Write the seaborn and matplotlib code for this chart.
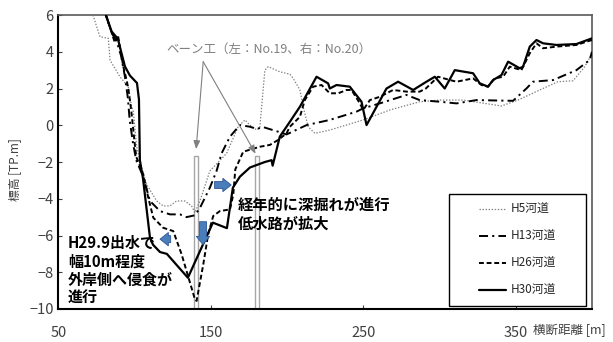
import matplotlib
matplotlib.use('Agg')
import matplotlib.pyplot as plt
import seaborn as sns
from matplotlib.lines import Line2D

sns.set_style('ticks')
plt.rcParams['font.family'] = ['Noto Sans CJK JP', 'DejaVu Sans']
plt.rcParams['lines.scale_dashes'] = False

# ---- data ----
h5_x = [72.6, 77.2, 82.7, 83.8, 90.3, 95.8, 98.0, 99.0, 101.3, 103.4, 105.6, 107.8, 114.4, 118.7,
        123.1, 127.5, 132.9, 137.3, 139.5, 142.8, 149.3, 151.5, 160.3, 167.9, 172.3, 175.6, 180.0,
        182.1, 185.4, 187.6, 195.2, 201.8, 204.0, 208.4, 210.5, 213.8, 218.2, 228.0, 249.9, 267.4,
        287.0, 300.2, 315.4, 340.6, 351.5, 365.7, 377.7, 387.6, 395.3, 400.0]
h5_y = [6.0, 4.82, 4.73, 3.55, 2.64, 2.1, 1.0, 0.83, -1.17, -1.9, -2.6, -3.21, -4.12, -4.39,
        -4.39, -4.12, -4.12, -4.39, -4.76, -4.12, -2.49, -2.3, -1.53, -0.08, 0.29, 0.01, -0.26,
        -0.1, 3.0, 3.19, 2.91, 2.78, 2.55, 1.92, 1.01, -0.08, -0.44, -0.26, 0.29, 0.83,
        1.28, 1.37, 1.37, 1.05, 1.37, 1.92, 2.37, 2.42, 3.19, 3.9]

h13_x = [81.1, 85.0, 88.0, 91.0, 93.6, 95.5, 96.7, 98.9, 101.0, 105.6, 110.0, 116.6, 123.1, 129.7,
         134.0, 139.5, 142.8, 149.3, 153.7, 157.0, 162.5, 169.0, 175.6, 180.0, 184.3, 194.1, 199.6,
         212.8, 228.0, 245.5, 249.9, 260.8, 278.3, 287.0, 300.2, 311.1, 324.2, 348.2, 357.0, 361.3,
         374.5, 389.8, 398.5, 400.0]
h13_y = [6.0, 5.0, 4.6, 3.8, 2.64, 1.5, 0.29, -0.98, -1.9, -2.8, -4.12, -4.67, -4.85, -4.85,
         -5.0, -4.9, -4.5, -3.4, -2.49, -1.53, -0.62, 0.01, -0.08, -0.2, -0.1, -0.35, -0.5,
         0.01, 0.29, 0.74, 0.92, 1.19, 1.65, 1.37, 1.28, 1.19, 1.37, 1.33, 2.0, 2.37,
         2.46, 3.0, 3.55, 4.0]

h26_x = [81.1, 85.0, 87.0, 89.0, 92.5, 94.7, 95.8, 97.7, 100.0, 101.0, 105.6, 108.9, 112.2, 118.7,
         125.3, 130.8, 139.5, 140.6, 145.0, 148.2, 151.5, 155.9, 162.5, 164.7, 166.0, 171.2, 182.1,
         188.7, 194.1, 199.6, 201.8, 208.4, 211.6, 217.1, 222.6, 228.0, 233.5, 239.0, 242.3, 247.7,
         249.9, 254.3, 260.8, 269.5, 278.3, 287.0, 291.0, 299.0, 306.9, 311.1, 322.0, 327.5, 331.8,
         336.2, 341.7, 346.1, 353.7, 359.2, 363.6, 367.9, 376.7, 389.8, 400.0]
h26_y = [6.0, 5.0, 4.5, 4.9, 3.2, 2.46, 2.0, 0.83, -0.98, -1.71, -2.67, -3.94, -5.03, -5.58,
         -5.76, -7.03, -9.47, -9.56, -7.57, -5.94, -4.94, -4.67, -4.58, -3.76, -2.4, -1.44, -1.17,
         -1.07, -0.8, -0.44, -0.08, 0.46, 1.37, 2.1, 2.19, 1.74, 1.74, 1.92, 1.92, 1.19,
         0.83, 1.37, 1.55, 1.92, 1.83, 1.83, 2.0, 2.64, 2.46, 2.37, 2.55, 2.19, 2.1,
         2.55, 2.64, 3.19, 3.0, 3.92, 4.46, 4.19, 4.28, 4.37, 4.64]

h30_x = [81.1, 84.9, 89.0, 90.3, 93.6, 96.9, 101.5, 102.8, 103.4, 104.6, 105.4, 110.0, 112.0, 116.6,
         121.1, 134.9, 148.0, 151.3, 160.5, 164.4, 169.0, 175.6, 185.4, 189.8, 190.5, 195.2, 199.6,
         201.8, 208.4, 219.3, 226.9, 228.0, 232.4, 241.1, 248.8, 252.1, 265.2, 272.8, 282.7, 291.4,
         296.9, 303.4, 310.0, 322.0, 326.4, 331.8, 335.1, 340.6, 345.0, 352.6, 354.8, 359.2, 363.6,
         367.9, 376.7, 389.8, 400.0]
h30_y = [6.0, 5.1, 4.7, 4.26, 3.2, 2.7, 2.3, 1.4, -1.9, -2.5, -2.87, -6.1, -6.5, -6.9,
         -7.0, -8.3, -5.9, -5.3, -5.6, -3.4, -2.8, -2.3, -2.0, -1.9, -2.2, -0.62, -0.08,
         0.19, 1.01, 2.64, 2.28, 2.0, 2.19, 2.1, 1.28, 0.01, 2.0, 2.37, 1.92, 2.37,
         2.64, 2.0, 3.0, 2.83, 2.28, 2.1, 2.46, 2.73, 3.46, 3.1, 3.19, 4.28, 4.64,
         4.46, 4.37, 4.42, 4.73]

series_names = ['H5河道', 'H13河道', 'H26河道', 'H30河道']

groyne_x = [140.3, 180.5]
groyne_top = -1.7

x_ticks = [50, 150, 250, 350]
y_ticks = [-10, -8, -6, -4, -2, 0, 2, 4, 6]

# ---- figure ----
fig = plt.figure(figsize=(6.13, 3.42), dpi=100)
ax = fig.add_axes([0.0954, 0.0965, 0.8703, 0.8596])

# groyne rectangles
ax.bar(groyne_x, [groyne_top - (-10)] * 2, bottom=-10, width=2.6, color='white',
       edgecolor='#A6A6A6', linewidth=1.0, zorder=1)

styles = [
    dict(color='#808080', lw=0.9, linestyle=(0, (1.0, 1.2))),
    dict(color='black', lw=1.4, linestyle=(0, (6.5, 3.0, 1.5, 3.0))),
    dict(color='black', lw=1.4, linestyle=(0, (3.5, 2.0))),
    dict(color='black', lw=1.6, linestyle='-'),
]
data = [(h5_x, h5_y), (h13_x, h13_y), (h26_x, h26_y), (h30_x, h30_y)]
for (xs, ys), st in zip(data, styles):
    sns.lineplot(x=xs, y=ys, ax=ax, sort=False, estimator=None, legend=False, zorder=3, **st)

ax.set_xlim(50, 400)
ax.set_ylim(-10, 6)
ax.set_xticks(x_ticks)
ax.set_yticks(y_ticks)
ax.tick_params(direction='in', length=3, labelsize=10.5, labelcolor='#404040', color='#404040')
ax.tick_params(axis='x', pad=12)
for s in ['left', 'bottom']:
    ax.spines[s].set_color('black')
    ax.spines[s].set_linewidth(1.5)
for s in ['top', 'right']:
    ax.spines[s].set_visible(True)
    ax.spines[s].set_color('#595959')
    ax.spines[s].set_linewidth(1.2)
ax.set_xlabel('')
ax.set_ylabel('')

# y label
fig.text(15 / 613, 1 - 170 / 342, '標高 [TP.m]', rotation=90, ha='center', va='center',
         fontsize=8.5, color='#404040')
# x label at bottom right
fig.text(533 / 613, 1 - 330 / 342, '横断距離 [m]', ha='left', va='center', fontsize=9,
         color='#404040', bbox=dict(facecolor='white', edgecolor='none', pad=1.0))

# groyne annotation
ax.text(188.2, 4.15, 'ベーン工（左：No.19、右：No.20）', ha='center', va='center',
        fontsize=9, color='#808080')
for tx, ty in [(140.3, -1.3), (179.3, -1.55)]:
    ax.annotate('', xy=(tx, ty), xytext=(144.95, 3.46),
                arrowprops=dict(arrowstyle='-|>,head_length=0.5,head_width=0.2',
                                color='#808080', lw=0.8, shrinkA=0, shrinkB=0))

# blue block arrows
blue_kw = dict(arrowstyle='simple,head_length=0.5,head_width=0.8,tail_width=0.42',
               fc='#4A7EBB', ec='#2F5597', lw=0.6, mutation_scale=12, shrinkA=0, shrinkB=0)
ax.annotate('', xy=(116.6, -6.2), xytext=(123.6, -6.2), arrowprops=blue_kw, zorder=5)
ax.annotate('', xy=(144.8, -6.5), xytext=(144.8, -5.25), arrowprops=blue_kw, zorder=5)
ax.annotate('', xy=(163.3, -3.25), xytext=(152.4, -3.25), arrowprops=blue_kw, zorder=5)

# bold texts
ax.text(167.4, -4.86, '経年的に深掘れが進行\n低水路が拡大', ha='left', va='center',
        fontsize=11, fontweight='bold', color='black', linespacing=1.2, zorder=6)
ax.text(56.2, -7.9, 'H29.9出水で\n幅10m程度\n外岸側へ侵食が\n進行', ha='left', va='center',
        fontsize=10.8, fontweight='bold', color='black', linespacing=1.17, zorder=6)

# legend with a separate frame
frame = plt.Rectangle((0.732, 0.010), 0.257, 0.381, transform=ax.transAxes,
                      facecolor='white', edgecolor='black', lw=1.0, zorder=7)
ax.add_patch(frame)
handles = [Line2D([0], [0], **st) for st in styles]
leg = ax.legend(handles, series_names, loc='center', bbox_to_anchor=(0.8605, 0.2005),
                frameon=False, fontsize=8.5, handlelength=2.3, handletextpad=0.4,
                labelspacing=1.2)
leg.set_zorder(8)

fig.savefig('out.png', dpi=100)
